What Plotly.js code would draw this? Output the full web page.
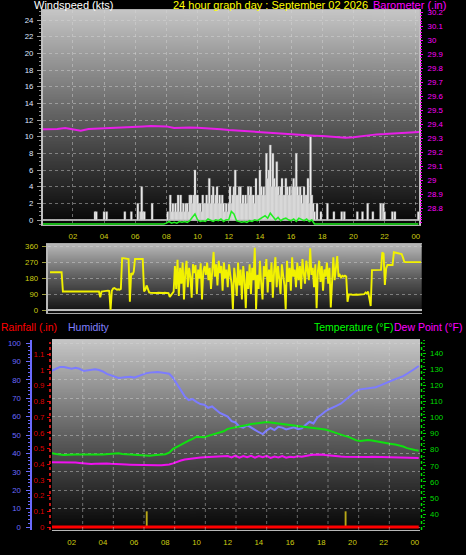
<!DOCTYPE html>
<html><head><meta charset="utf-8">
<script src="https://cdn.plot.ly/plotly-3.0.1.min.js"></script>
<style>html,body{margin:0;padding:0;background:#000;}#chart{width:466px;height:555px;}</style>
</head><body><div id="chart"></div>
<script>
// ---------- DATA ----------
// wind speed (kts), 5-minute samples starting 00:00
const windSpeed = [
0,0,0,0,0,0,0,0,0,0,0,0,
0,0,0,0,0,0,0,0,0,0,0,0,
0,0,0,0,0,0,0,0,0,0,0,0,
0,0,0,0,0,1,1,0,0,0,0,0,
1,0,1,0,0,0,0,0,0,0,0,0,
0,0,0,0,1,0,0,0,0,1,0,0,
0,0,2,0,1,4,1,1,0,0,0,0,
0,2,0,0,0,0,0,0,0,0,0,0,
0,1,0,3,1,2,1,2,1,3,1,3,
1,2,1,2,2,1,3,3,2,3,6,3,
3,2,2,1,3,2,2,3,2,5,2,3,
4,2,3,4,2,3,2,3,2,1,2,1,
2,4,2,3,4,6,3,3,4,4,2,3,
2,3,2,4,3,4,3,3,2,5,3,3,
6,4,3,4,3,8,5,6,9,4,8,5,
4,7,4,3,4,5,3,3,5,4,3,4,
3,4,5,4,8,4,3,4,3,2,4,3,
3,5,2,10,3,2,1,0,2,0,0,1,
0,0,0,0,2,0,0,0,0,1,0,0,
0,0,0,1,0,1,0,0,0,0,0,0,
0,0,0,1,0,0,0,1,0,0,0,2,
0,0,0,1,0,0,0,0,0,2,0,2,
1,0,0,0,0,0,1,0,1,0,0,0,
0,0,0,0,0,0,0,0,0,0,0,0,
0,0,1];
// average wind speed (kts), 10-minute samples
const windAvg = [
0,0,0,0,0,0, 0,0,0,0,0,0, 0,0,0,0,0,0, 0,0,0,0,0,0,
0,0,0,0,0,0, 0,0,0,0,0,0, 0,0,0,0,0,0, 0,0,0,0,0,0,
0.1,0.3,0.1,0.2,0.1,0.3,
0.2,0.3,0.2,0.4,0.8,1.2,
0.5,0.3,0.4,0.3,0.6,0.4,
0.3,0.5,0.4,0.6,0.3,0.5,
0.5,1.5,1.2,0.4,0.3,0.2,
0.3,0.2,0.4,0.3,0.5,0.4,
0.6,0.8,1.0,0.7,1.3,0.9,
0.5,0.8,0.4,0.6,0.7,0.5,
0.4,0.6,0.3,0.7,0.5,0.4,
0.6,0.3,0.5,0,0,0,
0,0,0,0,0,0, 0,0,0,0,0,0, 0,0,0,0,0,0,
0,0,0,0,0,0, 0,0,0,0,0,0, 0,0,0,0,0,0,
0,0];
// barometer (inHg), 30-minute samples
const barometer = [
29.367,29.368,29.369,29.376,29.364,29.357,29.369,29.371,29.373,29.376,
29.379,29.381,29.384,29.388,29.391,29.390,29.388,29.376,29.380,29.380,
29.379,29.377,29.373,29.368,29.362,29.358,29.355,29.350,29.346,29.341,
29.337,29.334,29.331,29.328,29.326,29.322,29.319,29.315,29.312,29.307,
29.310,29.318,29.326,29.331,29.333,29.336,29.343,29.347,29.350,29.350];
// wind direction (degrees), 5-minute samples
const windDir = [
215,215,215,215,215,215,215,215,215,215,105,105,
105,104,105,105,104,105,105,105,104,105,105,105,
105,105,104,105,105,105,104,105,105,105,105,104,
105,105,105,72,105,106,108,110,112,110,108,0,
110,122,125,118,115,118,115,120,295,295,293,295,
292,290,47,210,200,218,290,290,290,288,290,290,
290,105,115,140,115,100,98,97,98,96,98,97,
98,97,98,96,97,98,98,97,96,75,85,90,
105,250,120,285,80,240,150,270,60,210,280,130,
240,190,70,260,210,255,90,230,180,265,60,220,
250,200,270,170,240,120,230,330,190,260,140,280,
210,250,110,270,180,230,130,260,200,150,5,240,
180,80,270,140,230,60,250,170,10,220,120,260,
90,240,170,354,5,200,120,280,150,60,250,190,
290,100,230,160,270,70,220,300,130,250,180,90,
260,200,140,5,280,160,240,110,300,190,230,130,
270,170,250,120,290,210,150,280,230,170,350,200,
240,130,260,10,220,280,160,250,110,230,190,270,
150,240,15,200,300,170,230,307,190,200,185,195,
190,195,190,47,88,90,88,86,88,90,88,87,
88,90,88,88,90,100,95,105,60,23,227,227,
227,227,225,227,227,228,328,320,142,237,256,256,
256,256,256,328,326,325,325,324,322,318,300,275,
272,272,272,272,272,272,272,272,272,272,272,272,
272];
// 15-minute samples starting 00:00
const humidity = [
85,85,85,85, 86,87,87,86.5, 86,86.5,86,84.8, 85,85.5,85.7,85.3,
84.5,83.2,82.5,81.5, 81,81.2,81.5,81.7, 81.2,82,83,83.5, 83.9,84.1,84.2,84,
83.8,83.3,81,77.5, 74,71,69,69.5, 68,66.8,66.5,64.8, 65.5,63.5,62,61,
60,57.5,56.8,54.5, 54,55.4,54,52.5, 51.5,50.5,52.5,53.8, 52.7,54.5,54,53,
53.5,54.2,53.2,53.6, 55.5,57.2,56.3,59.5, 61,62.8,64,64.8, 66,67,68.8,70.2,
72,74,74.8,75, 75.4,75.6,76,76.8, 77.8,78.8,79.6,80.4, 81.2,82,83.3,84.5,
86,87.5];
const temperature = [
77.8,77.8,77.8,77.8, 77.3,76.9,76.7,76.9, 77.1,77.1,77,77.1, 77.2,77.1,77,77.1,
77.1,77.2,77.5,77.8, 77.8,77.4,77.1,77, 76.9,76.7,76.4,76.1, 76.2,76.5,76.7,76.9,
77.2,78.2,80.5,81.8, 83.2,84.5,85.6,86.8, 88.1,87.9,87.7,88.6, 89.3,89.8,90.6,91.5,
93,93.4,94,94.6, 94.9,95.4,96,96.4, 96.8,97.1,97.2,96.9, 96.6,96.4,96.2,95.8,
95.5,95.2,95,94.6, 94.2,94,93.7,93.3, 93,92.6,91.9,91, 90,89.3,88.6,88,
87,85.8,85.4,85.8, 86,85.7,85.2,84.8, 84.5,84.1,83.6,83.2, 82.7,82,81,80.3,
79.8,79.4];
const dewPoint = [
72.4,72.4,72.4,72.4, 72.4,72.3,72.2,72.1, 72,72,71.8,71.5, 71.3,71.1,71.2,71.4,
71.5,71.4,71.2,71, 71,70.9,70.8,70.7, 70.6,70.5,70.4,70.3, 70.3,70.3,70.3,70.4,
70.5,70.8,71.5,72.5, 73.3,73.9,74.3,74.7, 74.9,75.1,75.3,75.4, 75.5,75.6,75.7,75.9,
76.1,75.2,76.3,75, 76,75.3,76.2,75.1, 76,75.4,76.2,74.9, 75.8,75.2,76.1,75,
75.6,75.3,76,75.6, 76.2,76.6,76.9,77.1, 77,76.7,76.4,76.2, 76,75.8,75.7,75.6,
75.6,75.5,75.6,75.6, 75.5,75.6,75.5,75.4, 75.4,75.3,75.2,75.1, 75,74.9,74.9,74.8,
74.8,74.8];
const rainfall = [
0,0,0,0, 0,0,0,0, 0,0,0,0, 0,0,0,0, 0,0,0,0, 0,0,0,0, 0,0,0,0, 0,0,0,0,
0,0,0,0, 0,0,0,0, 0,0,0,0, 0,0,0,0, 0,0,0,0, 0,0,0,0, 0,0,0,0, 0,0,0,0,
0,0,0,0, 0,0,0,0, 0,0,0,0, 0,0,0,0, 0,0,0,0, 0,0,0,0, 0,0,0,0, 0,0,0,0,
0,0];
const rainMarkTime = [6.81, 19.56];
const rainMark = [0.1, 0.1];

// tick labels
const hourTickVals = [2,4,6,8,10,12,14,16,18,20,22,24];
const hourTickText = ['02','04','06','08','10','12','14','16','18','20','22','00'];
const baroTickVals = [28.8,28.9,29.0,29.1,29.2,29.3,29.4,29.5,29.6,29.7,29.8,29.9,30.0,30.1,30.2];
const baroTickText = ['28.8','28.9','29','29.1','29.2','29.3','29.4','29.5','29.6','29.7','29.8','29.9','30','30.1','30.2'];
const dirTickVals = [0,90,180,270,360];
const compassText = ['N','E','S','W','N'];
const humTickVals = [0,10,20,30,40,50,60,70,80,90,100];
const rainTickVals = [0,0.1,0.2,0.3,0.4,0.5,0.6,0.7,0.8,0.9,1,1.1];
const rainTickText = ['0','0.1','0.2','0.3','0.4','0.5','0.6','0.7','0.8','0.9','1','1.1'];
const tempTickVals = [40,50,60,70,80,90,100,110,120,130,140];

// ---------- LAYOUT HELPERS ----------
const W = 466, H = 555;
const px = v => v / W;
const py = v => 1 - v / H;
const FONT = 'Liberation Sans, Arial, sans-serif';
const tickFont = c => ({family: FONT, size: 7.8, color: c});
const gridCol = 'rgba(215,215,215,0.45)';

function gradient(top, mid, bottom) {
  const c = document.createElement('canvas');
  c.width = 4; c.height = 256;
  const ctx = c.getContext('2d');
  const g = ctx.createLinearGradient(0, 0, 0, 256);
  g.addColorStop(0, top); g.addColorStop(0.5, mid); g.addColorStop(1, bottom);
  ctx.fillStyle = g; ctx.fillRect(0, 0, 4, 256);
  return c.toDataURL();
}
const bg = gradient('#c6c6c6', '#606060', '#050505');
const bgMid = gradient('#b8b8b8', '#5a5a5a', '#101010');
function bgImage(src, x0, x1, y0, y1) {
  return {source: src, xref: 'paper', yref: 'paper', x: px(x0), y: py(y0),
    sizex: px(x1) - px(x0), sizey: py(y0) - py(y1), sizing: 'stretch',
    xanchor: 'left', yanchor: 'top', layer: 'below'};
}

// panel boxes (pixels)
const TOP = {x0: 43, x1: 419, y0: 10, y1: 225};
const MID = {x0: 47.7, x1: 421.7, y0: 244, y1: 312.7};
const BOT = {x0: 52, x1: 420, y0: 340, y1: 530};

const traces = [
  {type: 'bar', y: windSpeed, x0: 0, dx: 1/12, xaxis: 'x', yaxis: 'y', width: 0.13,
   marker: {color: '#eeeeee', line: {color: 'rgba(150,150,150,0.9)', width: 0.4}}},
  {type: 'scatter', mode: 'lines', y: windAvg, x0: 0, dx: 1/6, xaxis: 'x', yaxis: 'y3',
   line: {color: '#22ee22', width: 1.5}},
  {type: 'scatter', mode: 'lines', y: barometer, x0: 0, dx: 0.5, xaxis: 'x', yaxis: 'y2',
   line: {color: '#e81ee8', width: 2}},
  {type: 'scatter', mode: 'lines', y: windDir, x0: 0, dx: 1/12, xaxis: 'x2', yaxis: 'y4',
   line: {color: '#f2f200', width: 1.9}},
  {type: 'bar', x: rainMarkTime, y: rainMark, xaxis: 'x3', yaxis: 'y7', width: 0.12,
   marker: {color: '#b8a818'}},
  {type: 'scatter', mode: 'lines', y: rainfall, x0: 0, dx: 0.25, xaxis: 'x3', yaxis: 'y7',
   line: {color: '#ff0000', width: 3}},
  {type: 'scatter', mode: 'lines', y: temperature, x0: 0, dx: 0.25, xaxis: 'x3', yaxis: 'y8',
   line: {color: '#10e010', width: 2}},
  {type: 'scatter', mode: 'lines', y: dewPoint, x0: 0, dx: 0.25, xaxis: 'x3', yaxis: 'y8',
   line: {color: '#f010f0', width: 2}},
  {type: 'scatter', mode: 'lines', y: humidity, x0: 0, dx: 0.25, xaxis: 'x3', yaxis: 'y6',
   line: {color: '#7c7cff', width: 2}}
];

const yellowTick = '#cccc10';
const layout = {
  width: W, height: H, margin: {l: 0, r: 0, t: 0, b: 0},
  paper_bgcolor: '#000', plot_bgcolor: 'rgba(0,0,0,0)', showlegend: false,
  barmode: 'overlay', hovermode: false,
  images: [bgImage(bg, TOP.x0, TOP.x1, TOP.y0, TOP.y1),
           bgImage(bgMid, MID.x0, MID.x1, MID.y0, MID.y1),
           bgImage(bg, BOT.x0, BOT.x1, BOT.y0, BOT.y1)],
  // ---- top panel ----
  xaxis: {domain: [px(TOP.x0), px(TOP.x1)], range: [0.08, 24.21], anchor: 'y',
    tickmode: 'array', tickvals: hourTickVals, ticktext: hourTickText, ticks: '',
    tickfont: tickFont(yellowTick), ticklabelstandoff: 4,
    showgrid: true, gridcolor: gridCol, griddash: 'dot', zeroline: false,
    showline: true, mirror: true, linecolor: '#b0b0b0', linewidth: 1},
  yaxis: {domain: [py(TOP.y1), py(TOP.y0)], range: [-0.6, 25.2], anchor: 'x',
    dtick: 2, tick0: 0, ticks: 'outside', ticklen: 4, tickcolor: '#9a9a9a',
    minor: {dtick: 0.5, ticks: 'outside', ticklen: 2, tickcolor: '#8a8a8a'},
    tickfont: tickFont('#dfe6ff'), ticklabelstandoff: 2,
    showgrid: true, gridcolor: gridCol, griddash: 'dot',
    zeroline: true, zerolinecolor: '#bdbdbd', zerolinewidth: 2,
    showline: true, mirror: true, linecolor: '#c0c0c0', linewidth: 2},
  yaxis2: {overlaying: 'y', side: 'right', anchor: 'x', range: [28.684, 30.219],
    tickmode: 'array', tickvals: baroTickVals, ticktext: baroTickText,
    ticks: 'outside', ticklen: 3, tickcolor: '#ff00ff',
    minor: {dtick: 0.02, ticks: 'outside', ticklen: 2, tickcolor: '#ff00ff'},
    tickfont: tickFont('#ff00ff'), ticklabelstandoff: 3, showgrid: false, zeroline: false},
  yaxis3: {overlaying: 'y', anchor: 'x', range: [-0.12, 25.68], visible: false},
  // ---- middle panel ----
  xaxis2: {domain: [px(MID.x0), px(MID.x1)], range: [-0.15, 24.05], anchor: 'y4',
    showticklabels: false, ticks: '', showgrid: false, zeroline: false,
    showline: true, mirror: true, linecolor: '#a8a8a8', linewidth: 1},
  yaxis4: {domain: [py(MID.y1), py(MID.y0)], range: [-15, 375], anchor: 'x2',
    tickmode: 'array', tickvals: dirTickVals, ticks: 'outside', ticklen: 4, tickcolor: '#9a9a40',
    tickfont: tickFont(yellowTick), ticklabelstandoff: 2,
    showgrid: true, gridcolor: gridCol, griddash: 'dot',
    zeroline: true, zerolinecolor: '#bdbdbd', zerolinewidth: 2,
    showline: true, linecolor: '#b8b8b8', linewidth: 2},
  yaxis5: {overlaying: 'y4', side: 'right', anchor: 'x2', range: [-15, 375],
    tickmode: 'array', tickvals: dirTickVals, ticktext: compassText, ticks: '',
    tickfont: {family: FONT, size: 12, color: '#ffff00'}, ticklabelstandoff: 13,
    showgrid: false, zeroline: false},
  // ---- bottom panel ----
  xaxis3: {domain: [px(BOT.x0), px(BOT.x1)], range: [0.737, 24.33], anchor: 'y6',
    tickmode: 'array', tickvals: hourTickVals, ticktext: hourTickText, ticks: '',
    tickfont: tickFont(yellowTick), ticklabelstandoff: 5,
    showgrid: false, zeroline: false,
    showline: true, mirror: true, linecolor: '#b8b8b8', linewidth: 1},
  yaxis6: {domain: [py(BOT.y1), py(BOT.y0)], range: [-1.63, 101.63],
    anchor: 'free', position: px(30.5), side: 'left',
    tickmode: 'array', tickvals: humTickVals, ticks: 'outside', ticklen: 4, tickcolor: '#6a6aff',
    minor: {dtick: 2, ticks: 'outside', ticklen: 2, tickcolor: '#6a6aff'},
    tickfont: tickFont('#6a6aff'), ticklabelstandoff: 3,
    showgrid: true, gridcolor: gridCol, griddash: 'dot', zeroline: false,
    showline: true, linecolor: '#6a6aff', linewidth: 2},
  yaxis7: {overlaying: 'y6', range: [-0.019, 1.191], anchor: 'free', position: px(50), side: 'left',
    tickmode: 'array', tickvals: rainTickVals, ticktext: rainTickText,
    ticks: 'outside', ticklen: 3, tickcolor: '#dd0000',
    tickfont: tickFont('#dd0000'), ticklabelstandoff: 1,
    showgrid: false, zeroline: false, showline: false},
  yaxis8: {overlaying: 'y6', range: [30.04, 148.28], anchor: 'free', position: px(421.5), side: 'right',
    tickmode: 'array', tickvals: tempTickVals, ticks: 'outside', ticklen: 3, tickcolor: '#00d000',
    minor: {dtick: 2, ticks: 'outside', ticklen: 2, tickcolor: '#00b000'},
    tickfont: tickFont('#00dd00'), ticklabelstandoff: 3,
    showgrid: false, zeroline: false, showline: false},
  shapes: [],
  annotations: []
};

// bottom panel vertical grid: 12 equal divisions
for (let k = 1; k < 12; k++) {
  layout.shapes.push({type: 'line', xref: 'x3 domain', yref: 'y6 domain', x0: k/12, x1: k/12, y0: 0, y1: 1,
    line: {color: gridCol, width: 1, dash: 'dot'}, layer: 'above'});
}
// dotted axis lines for rainfall and temperature
layout.shapes.push({type: 'line', xref: 'paper', yref: 'paper', x0: px(50), x1: px(50), y0: py(BOT.y1), y1: py(BOT.y0 + 2),
  line: {color: '#ff2020', width: 1.5, dash: 'dot'}});
layout.shapes.push({type: 'line', xref: 'paper', yref: 'paper', x0: px(421.5), x1: px(421.5), y0: py(BOT.y1), y1: py(BOT.y0 + 2),
  line: {color: '#00e000', width: 1.5, dash: 'dot'}});

function label(text, x, y, color, size) {
  layout.annotations.push({text: text, xref: 'paper', yref: 'paper', x: px(x), y: py(y),
    xanchor: 'left', yanchor: 'middle', showarrow: false, borderpad: 0,
    font: {family: FONT, size: size, color: color}});
}
label('Windspeed (kts)', 33, 5, '#ffffff', 11);
label('24 hour graph day : September 02 2026', 172, 5, '#ffff00', 11);
label('Barometer (.in)', 372, 5, '#ff00ff', 11);
label('Rainfall (.in)', 0, 326.5, '#ff0000', 10.5);
label('Humidity', 67, 326.5, '#8080ff', 10.5);
label('Temperature (°F)', 313, 326.5, '#00ff00', 10.5);
label('Dew Point (°F)', 393, 326.5, '#ff00ff', 10.5);

Plotly.newPlot('chart', traces, layout, {staticPlot: true, displayModeBar: false});
</script></body></html>
